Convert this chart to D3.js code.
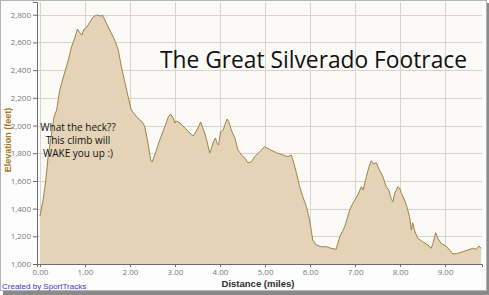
<!DOCTYPE html>
<html>
<head>
<meta charset="utf-8">
<script src="https://cdn.jsdelivr.net/npm/d3@7"></script>
<style>
  body { margin: 0; background: #fff; }
  svg { display: block; }
</style>
</head>
<body>
<svg id="chart" width="489" height="295"></svg>
<script>
// distance (miles) and elevation (feet)
const distances = [0.00, 0.07, 0.13, 0.18, 0.26, 0.31, 0.37, 0.44, 0.52, 0.63, 0.70, 0.78, 0.83, 0.89, 0.93, 0.98,
  1.04, 1.11, 1.18, 1.26, 1.35, 1.39, 1.44, 1.55, 1.66, 1.74, 1.81, 1.89, 1.96, 2.03, 2.15, 2.29, 2.33, 2.40,
  2.46, 2.49, 2.55, 2.66, 2.77, 2.85, 2.90, 2.96, 3.00, 3.03, 3.11, 3.22, 3.33, 3.40, 3.46, 3.51, 3.57, 3.61,
  3.66, 3.72, 3.77, 3.81, 3.85, 3.90, 3.93, 3.97, 4.01, 4.07, 4.12, 4.16, 4.20, 4.25, 4.33, 4.40, 4.48, 4.55,
  4.62, 4.70, 4.77, 4.88, 4.99, 5.10, 5.25, 5.40, 5.51, 5.58, 5.62, 5.70, 5.77, 5.84, 5.92, 5.99, 6.06, 6.14,
  6.25, 6.36, 6.47, 6.58, 6.66, 6.77, 6.88, 6.95, 7.06, 7.14, 7.18, 7.25, 7.31, 7.36, 7.41, 7.47, 7.54, 7.62,
  7.69, 7.75, 7.80, 7.84, 7.88, 7.95, 7.99, 8.03, 8.10, 8.15, 8.21, 8.25, 8.28, 8.32, 8.39, 8.50, 8.62, 8.69,
  8.73, 8.79, 8.84, 8.91, 9.02, 9.10, 9.17, 9.28, 9.39, 9.50, 9.61, 9.69, 9.75, 9.80];
const elevations = [1347, 1462, 1606, 1773, 1946, 2061, 2112, 2256, 2350, 2473, 2567, 2639, 2697, 2668, 2653, 2697,
  2711, 2747, 2783, 2798, 2790, 2798, 2762, 2690, 2617, 2545, 2422, 2307, 2206, 2112, 2061, 2018, 1989, 1874,
  1751, 1736, 1787, 1895, 1989, 2061, 2083, 2054, 2018, 2032, 2018, 1982, 1946, 1924, 1953, 1982, 2025, 1989,
  1946, 1874, 1801, 1837, 1881, 1910, 1874, 1859, 1953, 1967, 2018, 2047, 2025, 1967, 1910, 1823, 1787, 1765,
  1731, 1739, 1775, 1811, 1847, 1828, 1804, 1787, 1775, 1787, 1751, 1655, 1558, 1486, 1414, 1318, 1173, 1137,
  1125, 1125, 1113, 1106, 1197, 1269, 1390, 1438, 1498, 1558, 1534, 1630, 1702, 1746, 1722, 1731, 1679, 1630,
  1558, 1534, 1474, 1450, 1510, 1558, 1547, 1510, 1462, 1414, 1342, 1245, 1298, 1245, 1186, 1161, 1137, 1113,
  1149, 1226, 1186, 1149, 1130, 1101, 1072, 1077, 1089, 1101, 1113, 1106, 1130, 1113];

const xTicks = [0, 1, 2, 3, 4, 5, 6, 7, 8, 9];
const yTicks = [1000, 1200, 1400, 1600, 1800, 2000, 2200, 2400, 2600, 2800];

const title = "The Great Silverado Footrace";
const noteLines = ["What the heck??", "This climb will", "WAKE you up :)"];

const svg = d3.select("#chart");
const plotL = 37, plotR = 482, plotT = 2, plotB = 264;

const x = d3.scaleLinear().domain([-0.066, 9.82]).range([plotL, plotR]);
const y = d3.scaleLinear().domain([1000, 2892]).range([plotB, plotT]);

// frame + drop shadow
svg.append("rect").attr("x", 3).attr("y", 3).attr("width", 486).attr("height", 292).attr("fill", "#8a8a8a");
svg.append("rect").attr("x", 0.5).attr("y", 0.5).attr("width", 486).attr("height", 290)
  .attr("fill", "#fdfdfd").attr("stroke", "#b5b5b5");

// plot background
svg.append("rect").attr("x", plotL).attr("y", plotT).attr("width", plotR - plotL).attr("height", plotB - plotT)
  .attr("fill", "#fbfaf6");

// grid
svg.append("g").selectAll("line").data(yTicks.slice(1)).join("line")
  .attr("x1", plotL).attr("x2", plotR)
  .attr("y1", d => Math.round(y(d)) + 0.5).attr("y2", d => Math.round(y(d)) + 0.5)
  .attr("stroke", "#d6d4cf");
svg.append("g").selectAll("line").data(xTicks).join("line")
  .attr("x1", d => Math.round(x(d)) + 0.5).attr("x2", d => Math.round(x(d)) + 0.5)
  .attr("y1", plotT).attr("y2", plotB)
  .attr("stroke", "#d6d4cf");

const data = distances.map((d, i) => ({ d: d, e: elevations[i] }));

const area = d3.area().x(p => x(p.d)).y0(plotB).y1(p => y(p.e));
const line = d3.line().x(p => x(p.d)).y(p => y(p.e));

svg.append("path").datum(data).attr("d", area).attr("fill", "#e4d3b6");
svg.append("path").datum(data).attr("d", line).attr("fill", "none")
  .attr("stroke", "#9c8446").attr("stroke-width", 1);

// axes
const yAxis = svg.append("g").attr("transform", `translate(${plotL},0)`)
  .call(d3.axisLeft(y).tickValues(yTicks).tickSize(4).tickPadding(2).tickFormat(d3.format(",")));
const xAxis = svg.append("g").attr("transform", `translate(0,${plotB})`)
  .call(d3.axisBottom(x).tickValues(xTicks).tickSize(3).tickPadding(2).tickFormat(d3.format(".2f")));
[yAxis, xAxis].forEach(g => {
  g.select(".domain").attr("stroke", "#6b6b6b");
  g.selectAll(".tick line").attr("stroke", "#6b6b6b");
  g.selectAll("text").attr("fill", "#7a7a7a").style("font-family", "Open Sans, sans-serif").style("font-size", "8px");
});

// axis titles
svg.append("text")
  .attr("transform", "translate(11,140) rotate(-90)")
  .attr("text-anchor", "middle")
  .style("font-family", "Liberation Sans, Arial, sans-serif")
  .style("font-size", "9px").style("font-weight", "bold")
  .attr("fill", "#a8782a")
  .text("Elevation (feet)");

svg.append("text")
  .attr("x", 258).attr("y", 287)
  .attr("text-anchor", "middle")
  .style("font-family", "Liberation Sans, Arial, sans-serif")
  .style("font-size", "9.5px").style("font-weight", "bold")
  .attr("fill", "#2e2e2e")
  .text("Distance (miles)");

svg.append("text")
  .attr("x", 2).attr("y", 289)
  .style("font-family", "Liberation Sans, Arial, sans-serif")
  .style("font-size", "8px")
  .attr("fill", "#3b3bc4")
  .text("Created by SportTracks");

// title
svg.append("text")
  .attr("x", 160).attr("y", 68)
  .attr("textLength", 307).attr("lengthAdjust", "spacingAndGlyphs")
  .style("font-family", "Open Sans, sans-serif")
  .style("font-size", "23px")
  .attr("fill", "#111")
  .text(title);

// annotation
svg.append("text")
  .attr("text-anchor", "middle")
  .style("font-family", "Open Sans, sans-serif")
  .style("font-size", "10px")
  .attr("fill", "#111")
  .selectAll("tspan").data(noteLines).join("tspan")
  .attr("x", 78).attr("y", (d, i) => 131 + i * 13)
  .text(d => d);
</script>
</body>
</html>
